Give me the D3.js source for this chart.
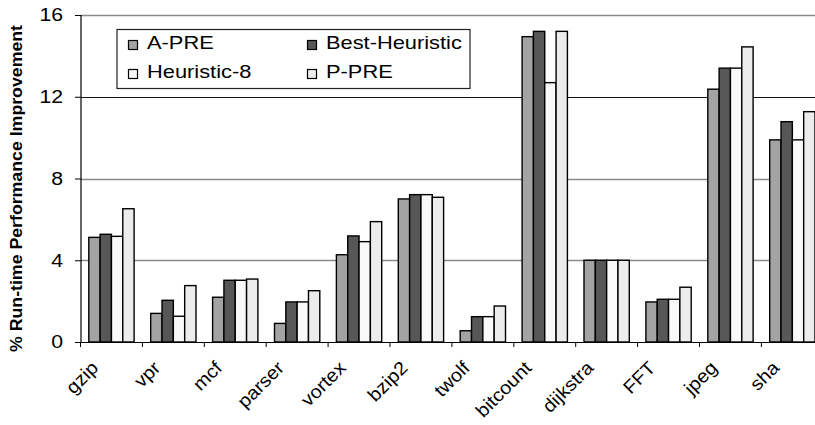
<!DOCTYPE html>
<html><head><meta charset="utf-8">
<script src="https://cdn.jsdelivr.net/npm/d3@7"></script>
<style>body{margin:0;background:#fff}svg{display:block}text{font-family:"Liberation Sans",Arial,sans-serif}</style>
</head><body>
<svg id="c" width="815" height="425"></svg>
<script>
const categories = ["gzip","vpr","mcf","parser","vortex","bzip2","twolf","bitcount","dijkstra","FFT","jpeg","sha"];
const seriesNames = ["A-PRE","Best-Heuristic","Heuristic-8","P-PRE"];
const aPre      = [5.12,1.40,2.19,0.91,4.27,7.00,0.55,14.94,4.0,1.96,12.37,9.89];
const bestHeur  = [5.27,2.04,3.02,1.96,5.19,7.21,1.24,15.20,4.0,2.09,13.40,10.78];
const heur8     = [5.17,1.26,3.02,1.96,4.91,7.21,1.24,12.69,4.0,2.09,13.40,9.89];
const pPre      = [6.52,2.76,3.08,2.51,5.89,7.08,1.76,15.20,4.0,2.68,14.44,11.27];
const yTicks = [0,4,8,12,16];
const colors = ["#a3a3a3","#575757","#f9f9f9","#ececec"];

const series = [aPre,bestHeur,heur8,pPre];
const svg = d3.select("#c");
function stretchText(sel, k){ sel.each(function(){ const w=this.getComputedTextLength(); d3.select(this).attr("textLength",w*k).attr("lengthAdjust","spacingAndGlyphs"); }); }

const y = d3.scaleLinear().domain([0,16]).range([342,15]);
const x = d3.scaleBand().domain(categories).range([80.5,823.3]).paddingInner(0.268).paddingOuter(0.134);
const xs = d3.scaleBand().domain(seriesNames).range([0,x.bandwidth()]);

// gridlines
svg.append("g").selectAll("line").data(yTicks.filter(d=>d>0)).join("line")
  .attr("x1",81).attr("x2",815).attr("y1",d=>Math.round(y(d))+0.5).attr("y2",d=>Math.round(y(d))+0.5)
  .attr("stroke",d=>d===12?"#111":"#8a8a8a").attr("stroke-width",d=>d===12?1.2:1.6);

// bars
const rows = categories.map((c,i)=>({c, vals: series.map((s,j)=>({k:seriesNames[j], v:s[i], j}))}));
svg.append("g").selectAll("g").data(rows).join("g")
  .attr("transform",d=>`translate(${x(d.c)},0)`)
  .selectAll("rect").data(d=>d.vals).join("rect")
  .attr("x",d=>xs(d.k)).attr("width",xs.bandwidth())
  .attr("y",d=>y(d.v)).attr("height",d=>y(0)-y(d.v))
  .attr("fill",d=>colors[d.j]).attr("stroke","#000").attr("stroke-width",1.4);

// y axis
const ya = svg.append("g").attr("transform","translate(81,0)")
  .call(d3.axisLeft(y).tickValues(yTicks).tickSize(6).tickPadding(12).tickFormat(d3.format("d")));
ya.select(".domain").attr("stroke","#000").attr("stroke-width",1.2).attr("d","M0,15V342");
ya.selectAll(".tick line").attr("stroke","#000");
ya.selectAll(".tick text").attr("font-size",18).attr("fill","#000").attr("font-family","Liberation Sans, Arial, sans-serif").call(stretchText,1.18);

// x axis
const xa = svg.append("g").attr("transform","translate(0,342)");
xa.append("line").attr("x1",81).attr("x2",815).attr("y1",0.5).attr("y2",0.5).attr("stroke","#000").attr("stroke-width",1.2);
const step = x.step();
xa.selectAll("line.tk").data(d3.range(categories.length+1)).join("line").attr("class","tk")
  .attr("x1",i=>80.5+i*step).attr("x2",i=>80.5+i*step).attr("y1",0).attr("y2",5).attr("stroke","#000");
svg.append("g").selectAll("text").data(categories).join("text")
  .attr("transform",d=>`translate(${x(d)+x.bandwidth()/2-12},369) rotate(-45)`)
  .attr("text-anchor","end").attr("font-size",18.5).attr("fill","#000").text(d=>d).call(stretchText,1.08);

// y title
svg.append("text").attr("transform","translate(21.5,188.5) rotate(-90)").attr("text-anchor","middle")
  .attr("font-size",17).attr("font-weight","bold").attr("fill","#000")
  .attr("textLength",327).attr("lengthAdjust","spacingAndGlyphs")
  .text("% Run-time Performance Improvement");

// legend
const lg = svg.append("g");
lg.append("rect").attr("x",117).attr("y",29.5).attr("width",353).attr("height",59).attr("fill","#fff").attr("stroke","#222").attr("stroke-width",1.2);
const lpos = [[128,49],[307,49],[128,78],[307,78]];
const li = lg.selectAll("g.li").data(seriesNames).join("g").attr("class","li")
  .attr("transform",(d,i)=>`translate(${lpos[i][0]},${lpos[i][1]})`);
li.append("rect").attr("x",0.5).attr("y",-8.5).attr("width",9).attr("height",9)
  .attr("fill",(d,i)=>colors[i]).attr("stroke","#000").attr("stroke-width",1.2);
li.append("text").attr("x",19).attr("y",0).attr("font-size",18.5).attr("fill","#000").text(d=>d).call(stretchText,1.18);
</script>
</body></html>
